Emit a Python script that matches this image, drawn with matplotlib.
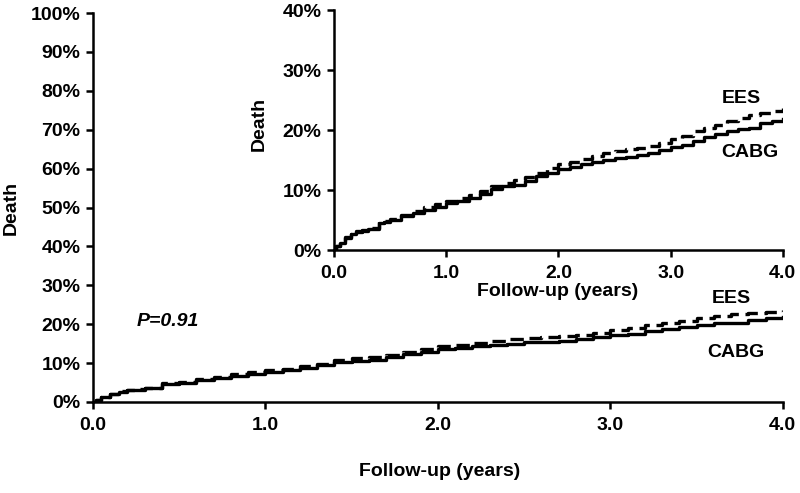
import numpy as np
import matplotlib
matplotlib.use("Agg")
import matplotlib.pyplot as plt
from matplotlib.ticker import FuncFormatter

plt.rcParams['font.family'] = ['Liberation Sans', 'DejaVu Sans']
plt.rcParams['font.weight'] = 'bold'

# --- данные (чтение с графика) ---
years = [0, 0.02, 0.05, 0.1, 0.15, 0.2, 0.25, 0.3, 0.4, 0.45, 0.5, 0.6, 0.7, 0.8,
         0.9, 1.0, 1.1, 1.2, 1.3, 1.4, 1.5, 1.6, 1.7, 1.8, 1.9, 2.0, 2.1, 2.2,
         2.3, 2.4, 2.5, 2.6, 2.7, 2.8, 2.9, 3.0, 3.1, 3.2, 3.3, 3.4, 3.5, 3.6,
         3.7, 3.8, 3.9, 4.0]
cabg = [0, 0.6, 1.2, 2.0, 2.6, 3.0, 3.2, 3.5, 4.5, 4.7, 5.0, 5.6, 6.2, 6.7,
        7.2, 7.8, 8.2, 8.7, 9.4, 10.2, 10.6, 10.9, 11.5, 12.3, 12.9, 13.5, 13.9, 14.3,
        14.7, 15.0, 15.3, 15.5, 15.8, 16.1, 16.6, 17.1, 17.5, 18.2, 18.8, 19.3, 19.8, 20.2,
        20.3, 21.2, 21.5, 21.9]
ees = [0, 0.6, 1.3, 2.1, 2.7, 3.1, 3.4, 3.7, 4.8, 4.9, 5.1, 5.9, 6.5, 7.2,
       7.6, 8.2, 8.6, 9.2, 9.8, 10.7, 11.2, 11.6, 12.2, 12.9, 13.6, 14.3, 14.7, 15.2,
       15.7, 16.2, 16.5, 16.8, 17.0, 17.3, 17.8, 18.5, 19.0, 19.8, 20.4, 20.9, 21.5, 22.0,
       22.5, 22.9, 23.2, 23.6]
x_ticks = [0, 1, 2, 3, 4]
main_y_ticks = list(range(0, 101, 10))
inset_y_ticks = [0, 10, 20, 30, 40]

FS = 14
pct = FuncFormatter(lambda v, p: f"{v:.0f}%")
yr = FuncFormatter(lambda v, p: f"{v:.1f}")


def style_axes(ax, yticks, ymax):
    ax.step(years, ees, where='post', color='black', lw=2.4, ls=(0, (4, 2)))
    ax.step(years, cabg, where='post', color='black', lw=2.4)
    ax.set_xlim(0, 4)
    ax.set_ylim(0, ymax)
    ax.set_xticks(x_ticks)
    ax.set_yticks(yticks)
    ax.xaxis.set_major_formatter(yr)
    ax.yaxis.set_major_formatter(pct)
    for s in ['top', 'right']:
        ax.spines[s].set_visible(False)
    for s in ['left', 'bottom']:
        ax.spines[s].set_linewidth(1.8)
    ax.tick_params(direction='out', length=5, width=1.8, labelsize=FS, pad=4)
    ax.tick_params(axis='x', pad=6)
    for lab in ax.get_xticklabels() + ax.get_yticklabels():
        lab.set_fontweight('bold')


fig = plt.figure(figsize=(8, 4.93), dpi=100)

# основной график
ax = fig.add_axes([0.116, 0.1846, 0.8625, 0.789])
style_axes(ax, main_y_ticks, 100)
ax.text(0.255, 20.6, "P=0.91", fontsize=FS, fontweight='bold', style='italic', va='center')
ax.text(3.70, 26.7, "EES", fontsize=FS, fontweight='bold', ha='center', va='center')
ax.text(3.73, 12.6, "CABG", fontsize=FS, fontweight='bold', ha='center', va='center')
fig.text(440 / 800, 1 - 472 / 493, "Follow-up (years)", fontsize=FS, fontweight='bold',
         ha='center', va='center')
fig.text(11 / 800, 1 - 208 / 493, "Death", fontsize=FS, fontweight='bold',
         ha='center', va='center', rotation=90)

# врезка
ax2 = fig.add_axes([0.4175, 0.4929, 0.561, 0.4868])
style_axes(ax2, inset_y_ticks, 40)
ax2.text(3.63, 25.3, "EES", fontsize=FS, fontweight='bold', ha='center', va='center')
ax2.text(3.71, 16.2, "CABG", fontsize=FS, fontweight='bold', ha='center', va='center')
fig.text(558 / 800, 1 - 291 / 493, "Follow-up (years)", fontsize=FS, fontweight='bold',
         ha='center', va='center')
fig.text(259 / 800, 1 - 124 / 493, "Death", fontsize=FS, fontweight='bold',
         ha='center', va='center', rotation=90)

fig.savefig("out.png", dpi=100)
